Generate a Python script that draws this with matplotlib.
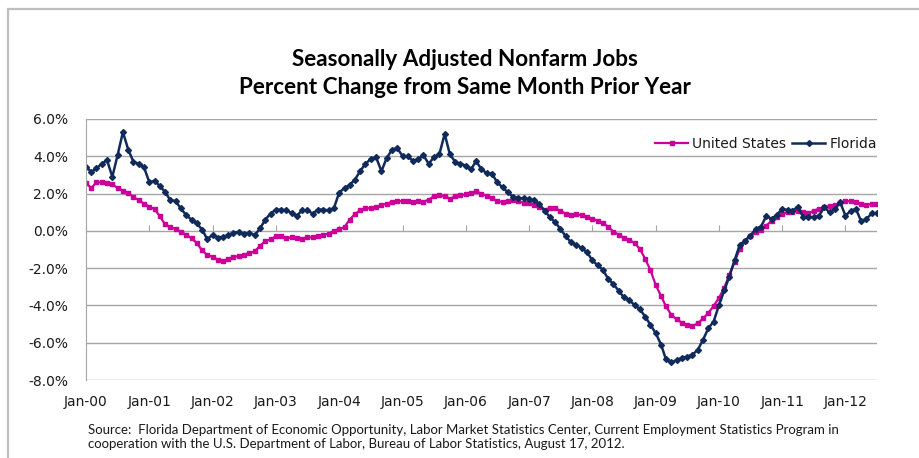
import pandas as pd
import matplotlib.pyplot as plt
import matplotlib.dates as mdates
from matplotlib.patches import Rectangle
from matplotlib.ticker import FuncFormatter, MultipleLocator

# Monthly data, Jan-2000 .. Jul-2012 (percent change from same month prior year)
start_month = "2000-01"
us_pct = [
    2.55, 2.3, 2.6, 2.6, 2.55, 2.5, 2.3, 2.15, 2.05, 1.8, 1.65, 1.45,
    1.3, 1.15, 0.8, 0.35, 0.2, 0.1, -0.05, -0.2, -0.4, -0.65, -1.05, -1.3,
    -1.4, -1.55, -1.62, -1.5, -1.4, -1.35, -1.27, -1.2, -1.1, -0.8, -0.55, -0.45,
    -0.3, -0.25, -0.4, -0.35, -0.4, -0.45, -0.35, -0.35, -0.3, -0.22, -0.15, 0.0,
    0.1, 0.2, 0.6, 0.9, 1.1, 1.2, 1.22, 1.28, 1.38, 1.45, 1.55, 1.58,
    1.6, 1.6, 1.55, 1.58, 1.55, 1.68, 1.85, 1.9, 1.85, 1.73, 1.85, 1.9,
    1.96, 2.04, 2.12, 2.0, 1.88, 1.76, 1.6, 1.55, 1.62, 1.65, 1.58, 1.52,
    1.47, 1.4, 1.27, 1.13, 1.23, 1.2, 1.08, 0.92, 0.83, 0.88, 0.85, 0.76,
    0.64, 0.55, 0.42, 0.23, -0.04, -0.2, -0.37, -0.48, -0.66, -0.96, -1.5, -2.1,
    -2.9, -3.5, -4.05, -4.5, -4.75, -4.92, -5.04, -5.1, -4.96, -4.7, -4.4, -4.03,
    -3.6, -3.04, -2.38, -1.67, -0.96, -0.52, -0.28, -0.07, 0.05, 0.28, 0.55, 0.73,
    0.9, 0.99, 1.03, 1.08, 0.99, 0.94, 1.08, 1.19, 1.28, 1.33, 1.39, 1.49,
    1.6, 1.58, 1.53, 1.44, 1.4, 1.44, 1.44,
]
fl_pct = [
    3.45, 3.15, 3.35, 3.6, 3.8, 2.9, 4.05, 5.3, 4.35, 3.7, 3.6, 3.4,
    2.6, 2.7, 2.4, 2.1, 1.65, 1.6, 1.2, 0.85, 0.6, 0.4, 0.07, -0.45,
    -0.2, -0.36, -0.32, -0.23, -0.1, -0.05, -0.18, -0.1, -0.23, 0.13, 0.6, 0.93,
    1.14, 1.14, 1.1, 0.96, 0.8, 1.1, 1.1, 0.93, 1.14, 1.14, 1.1, 1.2,
    2.05, 2.3, 2.45, 2.75, 3.2, 3.6, 3.85, 3.95, 3.2, 3.9, 4.35, 4.45,
    4.0, 4.0, 3.75, 3.85, 4.05, 3.6, 3.95, 4.1, 5.2, 4.1, 3.7, 3.6,
    3.5, 3.3, 3.75, 3.3, 3.1, 3.07, 2.6, 2.33, 2.06, 1.83, 1.76, 1.74,
    1.7, 1.65, 1.44, 1.08, 0.73, 0.46, 0.1, -0.3, -0.62, -0.75, -0.92, -1.14,
    -1.58, -1.85, -2.08, -2.56, -2.86, -3.2, -3.57, -3.71, -3.98, -4.2, -4.6, -5.04,
    -5.49, -6.1, -6.9, -7.05, -6.95, -6.8, -6.75, -6.64, -6.38, -5.84, -5.22, -4.87,
    -3.98, -3.18, -2.47, -1.58, -0.75, -0.52, -0.25, 0.1, 0.23, 0.8, 0.64, 0.87,
    1.17, 1.12, 1.08, 1.3, 0.76, 0.76, 0.73, 0.82, 1.26, 1.0, 1.17, 1.53,
    0.82, 1.08, 1.17, 0.52, 0.64, 0.94, 0.94,
]
series_names = ["United States", "Florida"]
title_lines = ["Seasonally Adjusted Nonfarm Jobs", "Percent Change from Same Month Prior Year"]
source_text = ("Source:  Florida Department of Economic Opportunity, Labor Market Statistics Center, "
               "Current Employment Statistics Program in\n"
               "cooperation with the U.S. Department of Labor, Bureau of Labor Statistics, August 17, 2012.")

dates = pd.date_range(start_month, periods=len(us_pct), freq="MS")

US_COLOR = "#CC0099"
FL_COLOR = "#102A5C"
GRID = "#A6A6A6"
TXT = "#1a1a1a"

fig = plt.figure(figsize=(9.19, 4.58), dpi=100)
ax = fig.add_axes([86 / 919, 1 - 380 / 458, (877 - 86) / 919, (380 - 119) / 458])

ax.plot(dates, us_pct, color=US_COLOR, lw=1.6, marker="s", ms=2.6, mec=US_COLOR, label=series_names[0])
ax.plot(dates, fl_pct, color=FL_COLOR, lw=1.8, marker="D", ms=3.0, mec=FL_COLOR, label=series_names[1])

ax.set_ylim(-8, 6)
ax.set_xlim(dates[0], dates[-1])
ax.yaxis.set_major_locator(MultipleLocator(2))
ax.yaxis.set_major_formatter(FuncFormatter(lambda v, p: f"{v:.1f}%"))
ax.xaxis.set_major_locator(mdates.MonthLocator(bymonth=1))
ax.xaxis.set_major_formatter(mdates.DateFormatter("%b-%y"))
ax.grid(axis="y", color=GRID, lw=1.0)
ax.set_axisbelow(True)
for s in ["top", "right", "bottom"]:
    ax.spines[s].set_visible(False)
ax.spines["left"].set_color(GRID)
ax.tick_params(axis="y", length=0, pad=13, labelsize=10, labelcolor=TXT)
ax.tick_params(axis="x", length=0, pad=11, labelsize=10, labelcolor=TXT)

# category axis crossing at 0% with small tick marks
zero_pos = (0 - (-8)) / 14
sec = ax.secondary_xaxis(zero_pos)
sec.xaxis.set_major_locator(mdates.MonthLocator(bymonth=1))
sec.tick_params(axis="x", direction="out", length=4, color=GRID, labelbottom=False, labeltop=False)
sec.spines["bottom"].set_visible(False)
sec.spines["top"].set_visible(False)

ax.legend(loc="center right", bbox_to_anchor=(1.0, (380 - 144) / 261), ncol=2, frameon=False,
          handlelength=2.4, handletextpad=0.3, columnspacing=0.4, borderpad=0, borderaxespad=0,
          prop={"size": 10})
for t in ax.get_legend().get_texts():
    t.set_color(TXT)

fig.text(465 / 919, 1 - 73.5 / 458, "\n".join(title_lines), ha="center", va="center",
         fontsize=16.2, fontweight="bold", family="Lato", linespacing=1.4, color="black")
fig.text(88 / 919, 1 - 437 / 458, source_text, ha="left", va="center", fontsize=9.5,
         family="Lato", linespacing=1.3, color=TXT)

fig.patches.append(Rectangle((8 / 919, -0.1), 2, 1.1 - 9 / 458, transform=fig.transFigure,
                             fill=False, ec="#BFBFBF", lw=1.6))

fig.savefig("out.png", dpi=100)
